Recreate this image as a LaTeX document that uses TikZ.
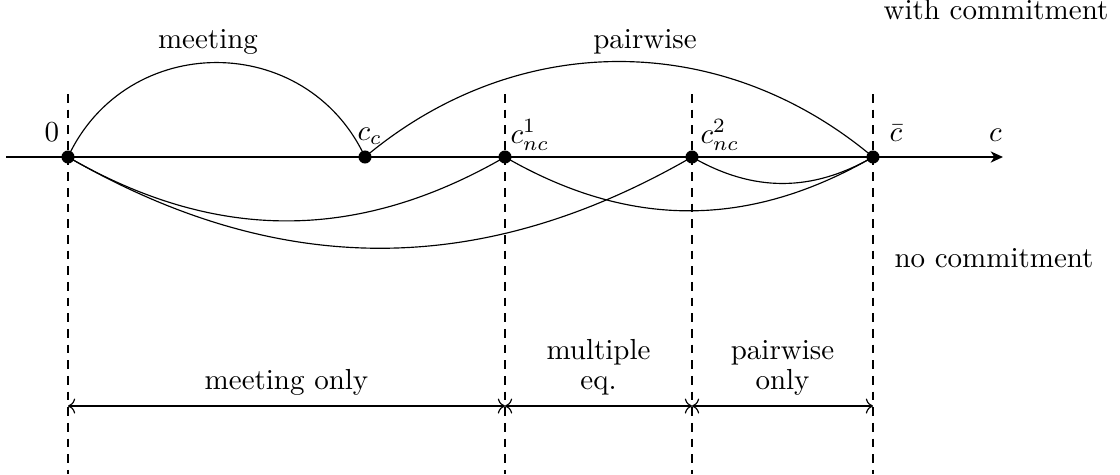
\documentclass[tikz,border=0pt]{standalone}
\usetikzlibrary{arrows.meta}
\begin{document}
\begin{tikzpicture}[x=0.3448pt,y=0.3448pt,
  dot/.style={circle,fill=black,inner sep=0pt,minimum size=4.5pt},
  axisline/.style={line width=1pt,-{Stealth[length=4.2pt,width=3.8pt,inset=1.2pt]}},
  curve/.style={line width=0.4pt},
  vline/.style={dash pattern=on 3pt off 2.4pt,line width=0.4pt},
  span/.style={<->,line width=0.4pt},
  lbl/.style={inner sep=0pt,anchor=base},
  region/.style={inner sep=0pt,anchor=south,align=center,font=\fontsize{10}{10.3}\selectfont}]
\useasboundingbox (0,0) rectangle (1120,-474);
% axis
\coordinate (axL) at (6,-157);
\coordinate (axR) at (1003,-157);
% points
\coordinate (p0) at (68,-157);
\coordinate (pcc) at (365,-157);
\coordinate (pn1) at (505,-157);
\coordinate (pn2) at (692,-157);
\coordinate (pcb) at (873,-157);
% dashed verticals
\foreach \p in {p0,pn1,pn2,pcb}{
  \draw[vline] (\p |- 0,-94) -- (\p |- 0,-474);
}
\draw[axisline] (axL) -- (axR);
% curves above
\draw[curve] (p0) to[out=65,in=115,looseness=1.2] (pcc);
\draw[curve] (pcc) to[out=40,in=140] (pcb);
% curves below
\draw[curve] (p0) to[bend right=30] (pn1);
\draw[curve] (p0) to[bend right=30] (pn2);
\draw[curve] (pn1) to[bend right=30] (pcb);
\draw[curve] (pn2) to[bend right=30] (pcb);
% dots
\node[dot] (d0) at (p0) {};
\node[dot] (dcc) at (pcc) {};
\node[dot] (dn1) at (pn1) {};
\node[dot] (dn2) at (pn2) {};
\node[dot] (dcb) at (pcb) {};
% point labels
\node[lbl] (l0) at (52,-141.5) {$0$};
\node[lbl,anchor=base west] (lcc) at (357,-140) {$c_c$};
\node[lbl,anchor=base west] (ln1) at (510,-143) {$c_{nc}^1$};
\node[lbl,anchor=base west] (ln2) at (700,-143) {$c_{nc}^2$};
\node[lbl] (lcb) at (896,-141) {$\bar{c}$};
\node[lbl] (lc) at (995.5,-141.5) {$c$};
% curve labels
\node[lbl] (lmeet) at (208,-48) {meeting};
\node[lbl] (lpair) at (645,-48) {pairwise};
\node[lbl] (lwith) at (996,-19) {with commitment};
\node[lbl] (lno) at (994,-267) {no commitment};
% regions
\coordinate (s0) at (68,-406);
\coordinate (s1) at (505,-406);
\coordinate (s2) at (692,-406);
\coordinate (s3) at (873,-406);
\draw[span] (s0) -- (s1);
\draw[span] (s1) -- (s2);
\draw[span] (s2) -- (s3);
\node[region] (r1) at (286.5,-396) {meeting only};
\node[region] (r2) at (598.5,-396) {multiple\\eq.};
\node[region] (r3) at (782.5,-396) {pairwise\\only};
\end{tikzpicture}
\end{document}
